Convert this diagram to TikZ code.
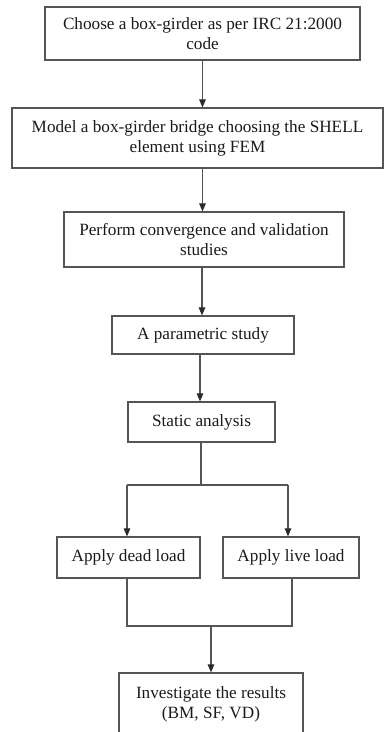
\documentclass[tikz,border=0pt]{standalone}
\usepackage{fontspec}
\setmainfont{Liberation Serif}
\usetikzlibrary{arrows.meta}
\definecolor{linegray}{HTML}{555555}
\definecolor{textdark}{HTML}{1A1A1A}
\definecolor{tipdark}{HTML}{2A2A2A}
\begin{document}
\begin{tikzpicture}[x=1pt,y=-1pt,
  box/.style={draw=linegray, line width=1.2pt, align=center, text=textdark, inner sep=0pt,
              font=\fontsize{17.2}{20}\selectfont},
  arr/.style={draw=linegray, line width=1.1pt, -{Triangle[length=8pt,width=6.5pt,color=tipdark]}},
  ln/.style={draw=linegray, line width=1.1pt}]
\useasboundingbox (0,0) rectangle (384,732);
\clip (0,0) rectangle (384,732);
\node[box, minimum width=315pt, minimum height=53pt] (b1) at (202.5,33.5) {Choose a box-girder as per IRC 21:2000\\code};
\node[box, minimum width=371pt, minimum height=60pt] (b2) at (197.5,138) {Model a box-girder bridge choosing the SHELL\\element using FEM};
\node[box, minimum width=280pt, minimum height=55pt] (b3) at (204,239.5) {Perform convergence and validation\\studies};
\node[box, minimum width=182pt, minimum height=38pt] (b4) at (203,335) {A parametric study};
\node[box, minimum width=147pt, minimum height=40pt] (b5) at (201.5,422) {Static analysis};
\node[box, minimum width=143pt, minimum height=41pt] (b6) at (128.5,557.5) {Apply dead load};
\node[box, minimum width=136pt, minimum height=41pt] (b7) at (291,557.5) {Apply live load};
\node[box, minimum width=184pt, minimum height=62pt] (b8) at (211,704) {Investigate the results\\(BM, SF, VD)};
\coordinate (s)  at (201,485);
\coordinate (sl) at (127,485);
\coordinate (sr) at (288,485);
\coordinate (jl) at (127,626);
\coordinate (jr) at (292,626);
\coordinate (jm) at (211,626);
\draw[arr] (b1.south) -- (b1.south |- b2.north);
\draw[arr] (b1.south |- b2.south) -- (b1.south |- b3.north);
\draw[arr] (202,267) coordinate (a3) -- (a3 |- b4.north);
\draw[arr] (200,354) coordinate (a4) -- (a4 |- b5.north);
\draw[ln] (s |- b5.south) -- (s);
\draw[ln] (sl) -- (sr);
\draw[arr] (sl) -- (sl |- b6.north);
\draw[arr] (sr) -- (sr |- b7.north);
\draw[ln] (jl |- b6.south) -- (jl) -- (jr) -- (jr |- b7.south);
\draw[arr] (jm) -- (b8.north);
\end{tikzpicture}
\end{document}
